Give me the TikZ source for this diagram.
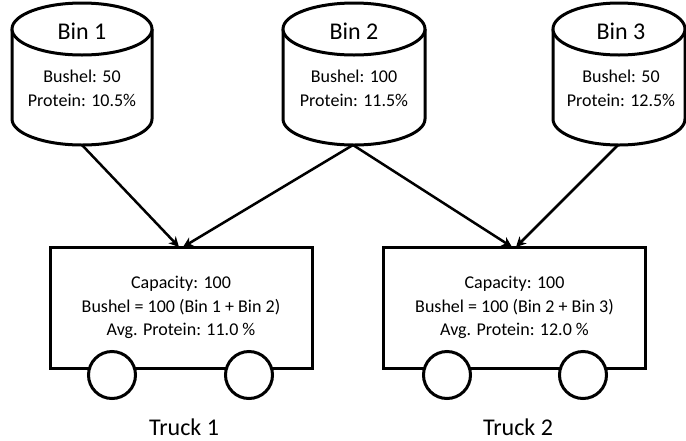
\documentclass[tikz,border=0pt]{standalone}
\usepackage{fontspec}
\setmainfont{Carlito}
\usetikzlibrary{arrows.meta}
\tikzset{
  bigtxt/.style={font=\fontsize{24}{29}\selectfont, inner sep=0pt},
  smalltxt/.style={font=\fontsize{18}{24}\selectfont, align=center, inner sep=0pt},
  truckbox/.style={draw, line width=3pt, fill=white, minimum width=262pt, minimum height=121pt, inner sep=0pt, font=\fontsize{18}{23.5}\selectfont, align=center},
  wheel/.style={draw, circle, line width=3pt, fill=white, minimum size=47pt, inner sep=0pt},
  binline/.style={line width=3pt, fill=white},
  flow/.style={line width=2.5pt, -{Stealth[length=10pt,width=10pt,inset=3pt]}}
}
\newcommand{\mybin}[2]{%
  \draw[binline] (#1-#2,29) -- (#1-#2,119) arc[start angle=180, end angle=360, x radius=#2pt, y radius=26pt] -- (#1+#2,29);
  \draw[binline] (#1,29) ellipse[x radius=#2pt, y radius=26pt];
}
\begin{document}
\begin{tikzpicture}[x=1pt,y=-1pt]
\useasboundingbox (0,0) rectangle (686,440);
% bins
\mybin{82}{70}
\mybin{354}{71}
\mybin{619}{66}
\node[bigtxt] (b1t) at (82,31) {Bin 1};
\node[smalltxt] (b1b) at (82,88) {Bushel: 50\\Protein: 10.5\%};
\node[bigtxt] (b2t) at (354,31) {Bin 2};
\node[smalltxt] (b2b) at (354,88) {Bushel: 100\\Protein: 11.5\%};
\node[bigtxt] (b3t) at (621,31) {Bin 3};
\node[smalltxt] (b3b) at (621,88) {Bushel: 50\\Protein: 12.5\%};
\coordinate (bin1) at (82,145);
\coordinate (bin2) at (353,145);
\coordinate (bin3) at (618,145);
% trucks
\node[truckbox] (truck1) at (181,307.5) {Capacity: 100\\Bushel = 100 (Bin 1 + Bin 2)\\Avg. Protein: 11.0 \%};
\node[wheel] (w11) at (112,375) {};
\node[wheel] (w12) at (249,375) {};
\node[bigtxt] (t1) at (184,427) {Truck 1};
\node[truckbox] (truck2) at (514.5,307.5) {Capacity: 100\\Bushel = 100 (Bin 2 + Bin 3)\\Avg. Protein: 12.0 \%};
\node[wheel] (w21) at (447,375) {};
\node[wheel] (w22) at (583,375) {};
\node[bigtxt] (t2) at (518,427) {Truck 2};
\coordinate (in11) at (179,247);
\coordinate (in12) at (183,247);
\coordinate (in21) at (512,247);
\coordinate (in22) at (516,247);
% flows
\draw[flow] (bin1) -- (in11);
\draw[flow] (bin2) -- (in12);
\draw[flow] (bin2) -- (in21);
\draw[flow] (bin3) -- (in22);
\end{tikzpicture}
\end{document}
